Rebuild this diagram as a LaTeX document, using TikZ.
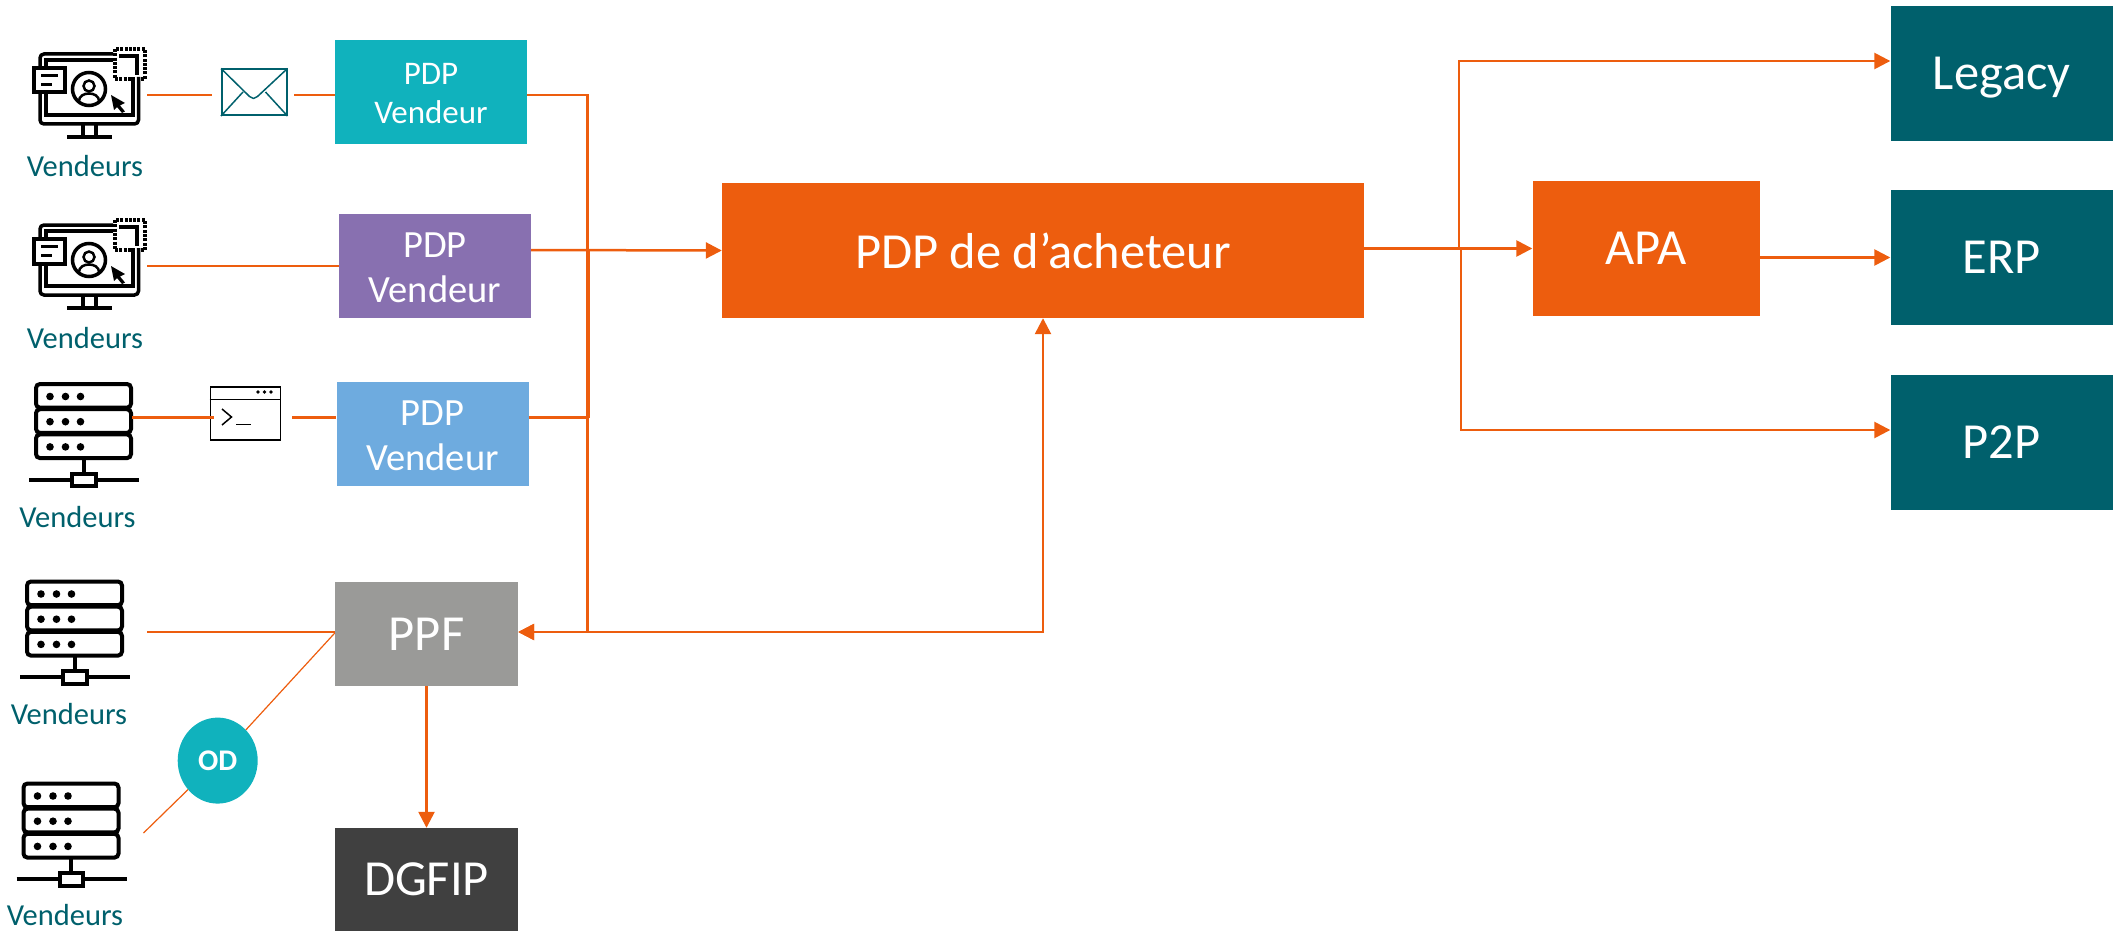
\documentclass[tikz,border=0pt]{standalone}
\usepackage{fontspec}
\setmainfont{Carlito}
\usetikzlibrary{arrows.meta, calc, positioning, shapes.geometric}

\definecolor{pdporange}{HTML}{ED5D0E}
\definecolor{pdpteal}{HTML}{10B2BD}
\definecolor{pdppurple}{HTML}{8870B0}
\definecolor{pdpblue}{HTML}{6EABDF}
\definecolor{pdpgrey}{HTML}{9A9A98}
\definecolor{pdpdark}{HTML}{404040}
\definecolor{pdpdeep}{HTML}{00606C}

\newcommand{\pdptext}{\rule{0pt}{.72em}PDP\\Vendeur}

\tikzset{
  box/.style = {
      fill=#1,
      text=white,
      align=center,
      inner sep=0pt,
    },
  smallbox/.style = {box=#1, minimum width=192pt, minimum height=104pt, font=\fontsize{33}{39}\selectfont},
  midbox/.style = {box=#1, minimum width=192pt, minimum height=104pt, font=\fontsize{38.5}{45}\selectfont},
  bigbox/.style = {box=#1, font=\fontsize{50.5}{56}\selectfont},
  endbox/.style = {bigbox=pdpdeep, minimum width=222.5pt, minimum height=135pt},
  grid/.style = {bigbox=#1, minimum width=183pt, minimum height=104pt},
  vlabel/.style = {anchor=base, text=pdpdeep, inner sep=0pt, font=\fontsize{30.5}{34}\selectfont},
  icon/.style = {minimum width=#1, inner sep=0pt, anchor=north west},
  link/.style = {draw=pdporange, line width=2.5pt},
  arrowlink/.style = {link, -{Triangle[length=16pt, width=16pt]}},
  monitor/.pic = {
      \draw[line width=3.5pt, rounded corners=4pt] (81,7) -- (8,7) -- (8,77) -- (106.5,77) -- (106.5,30);
      \draw[line width=3.5pt] (81,13) -- (14,13) -- (14,68) -- (101,68) -- (101,30);
      \draw[line width=3.5pt] (51,77) -- (51,88) (64,77) -- (64,88);
      \draw[line width=3.5pt] (35,90) -- (80,90);
      \draw[line width=4pt, fill=white] (2,21) rectangle (33,45.5);
      \draw[line width=3pt] (9,28.5) -- (26,28.5) (9,37.5) -- (20,37.5);
      \draw[line width=3.5pt, fill=white] (57,42) circle (16.5);
      \draw[line width=2.5pt] (57,39) circle (5.5);
      \draw[line width=2.5pt] (47,54) .. controls (47,44) and (67,44) .. (67,54);
      \fill (79,48) -- (93,56) -- (88,58.5) -- (93,64.5) -- (90,66) -- (85,60) -- (82,63) -- cycle;
      \draw[line width=4.5pt, dash pattern=on 3pt off 1.3pt] (83,2) rectangle (113,32);
      \draw[line width=3.5pt] (87,9) -- (105,9) -- (105,28);
    },
  server/.pic = {
      \foreach \row in {0,25.2,50.4} {
          \draw[line width=4pt, rounded corners=4pt] (7,\row+1.5) rectangle (102,\row+25.2);
          \foreach \dot in {21,36.5,51.5} {
              \fill (\dot,\row+14) circle (3.8);
            }
        }
      \draw[line width=4pt] (54.5,76) -- (54.5,91);
      \draw[line width=4pt] (0,97) -- (110,97);
      \draw[line width=4pt, fill=white] (43,91) rectangle (66.5,103.5);
    },
}

\begin{document}
\begin{tikzpicture}[x=1pt, y=-1pt]

  \useasboundingbox (0,0) rectangle (2113,931);

  \node[smallbox=pdpteal](pdpa) at (431,92) {\pdptext};
  \node[midbox=pdppurple](pdpb) at (435,266) {\pdptext};
  \node[midbox=pdpblue](pdpc) at (432.5,434) {\pdptext};
  \node[grid=pdpgrey](ppf) at (426.5,634) {PPF};
  \node[grid=pdpdark, minimum height=103pt](dgfip) at (426.5,879.5) {DGFIP};

  \node[bigbox=pdporange, minimum width=642pt, minimum height=135pt](acheteur) at (1043,250.5) {PDP de d’acheteur};
  \node[bigbox=pdporange, minimum width=227pt, minimum height=135pt](apa) at (1646,248.5) {APA};

  \node[endbox, text depth=0pt](legacy) at (2001.75,73.5) {Legacy};
  \node[endbox](erp) at (2001.75,257.5) {ERP};
  \node[endbox](ptp) at (2001.75,442.5) {P2P};

  \node[icon=115pt, minimum height=92pt](monitora) at (32,47) {};
  \node[icon=115pt, minimum height=92pt](monitorb) at (32,218) {};
  \node[icon=110pt, minimum height=105pt](servera) at (29,382.5) {};
  \node[icon=110pt, minimum height=105pt](serverb) at (20,580) {};
  \node[icon=110pt, minimum height=105pt](serverc) at (16.5,782) {};

  \pic at (monitora.north west) {monitor};
  \pic at (monitorb.north west) {monitor};
  \pic at (servera.north west) {server};
  \pic at (serverb.north west) {server};
  \pic at (serverc.north west) {server};

  \node[vlabel](labela) at (85,177) {Vendeurs};
  \node[vlabel](labelb) at (85,348) {Vendeurs};
  \node[vlabel](labelc) at (77.5,527) {Vendeurs};
  \node[vlabel](labeld) at (69,724) {Vendeurs};
  \node[vlabel](labele) at (65,925) {Vendeurs};

  \node[draw=pdpdeep, line width=1.5pt, icon=65pt, minimum height=46pt](envelope) at (221,68.5) {};
  \draw[pdpdeep, line width=1.5pt, line join=round]
  (envelope.north west) -- +(28.5,28) -- +(32.5,30) -- +(36.5,28) -- (envelope.north east);
  \draw[pdpdeep, line width=1.5pt]
  (envelope.south west) -- +(22,-24)
  (envelope.south east) -- +(-22,-24);

  \node[draw, line width=1.5pt, icon=70pt, minimum height=53pt](terminal) at (209.5,386) {};
  \draw[line width=1.5pt] ([yshift=-13.5pt]terminal.north west) -- ([yshift=-13.5pt]terminal.north east);
  \foreach \dot in {48.5,55,61.5} {
      \fill ([shift={(\dot,6)}]terminal.north west) circle (1.8);
    }
  \draw[line width=1.5pt] ([shift={(12.5,23)}]terminal.north west) -- +(9.5,8) -- +(0,16);
  \draw[line width=1.5pt] ([shift={(26.5,38.5)}]terminal.north west) -- +(14.5,0);

  \coordinate (rowa) at (0,95);
  \coordinate (rowb) at (0,266);
  \coordinate (rowc) at (0,417.5);
  \coordinate (rowd) at (0,632);
  \coordinate (bus) at (587.5,0);
  \coordinate (serverdend) at (147,632);
  \coordinate (servereend) at (143.5,833);
  \coordinate (split) at (1460,0);

  \draw[link](monitora.east |- rowa) -- (212,95);
  \draw[link](envelope.east |- rowa) ++(6.5,0) -- (pdpa.west |- rowa);
  \draw[link](monitorb.east |- rowb) -- (pdpb.west |- rowb);
  \draw[link](servera.east |- rowc) ++(-7,0) -- ([xshift=4pt]terminal.west |- rowc);
  \draw[link](terminal.east |- rowc) ++(11,0) -- (pdpc.west |- rowc);
  \draw[link](serverdend) -- (ppf.west |- rowd);

  \node[ellipse, fill=pdpteal, text=white, minimum width=80pt, minimum height=86pt, inner sep=0pt,
    font=\fontsize{30}{32}\selectfont\bfseries](od) at (217.7,760.6) {OD};
  \draw[draw=pdporange, line width=1.2pt](ppf.west |- rowd) ++(0,1) -- (od);
  \draw[draw=pdporange, line width=1.2pt](od) -- (servereend);

  \draw[arrowlink](pdpa.east |- rowa) -| (bus |- rowd) -- (ppf.east |- rowd);
  \draw[link, line width=3pt](pdpc.east |- rowc) -- (bus |- rowc) ++(1,0) -- (588.5,250);
  \draw[arrowlink](pdpb.east |- acheteur) ++(0,-0.5) -- (acheteur.west);
  \draw[arrowlink, {Triangle[length=16pt, width=16pt]}-{Triangle[length=16pt, width=16pt]}]
  (ppf.east |- rowd) -| (acheteur.south);
  \draw[arrowlink](ppf) -- (dgfip);

  \draw[link, line width=3.5pt](acheteur.east |- apa) -- (split |- apa);
  \draw[arrowlink](split |- apa) -- (apa.west);
  \draw[arrowlink](split |- apa) ++(-1,0) |- ([yshift=12.5pt]legacy.west);
  \draw[arrowlink](split |- apa) ++(1,0) |- ([yshift=12.5pt]ptp.west);
  \draw[arrowlink](apa.east |- erp) -- (erp.west);

\end{tikzpicture}
\end{document}
